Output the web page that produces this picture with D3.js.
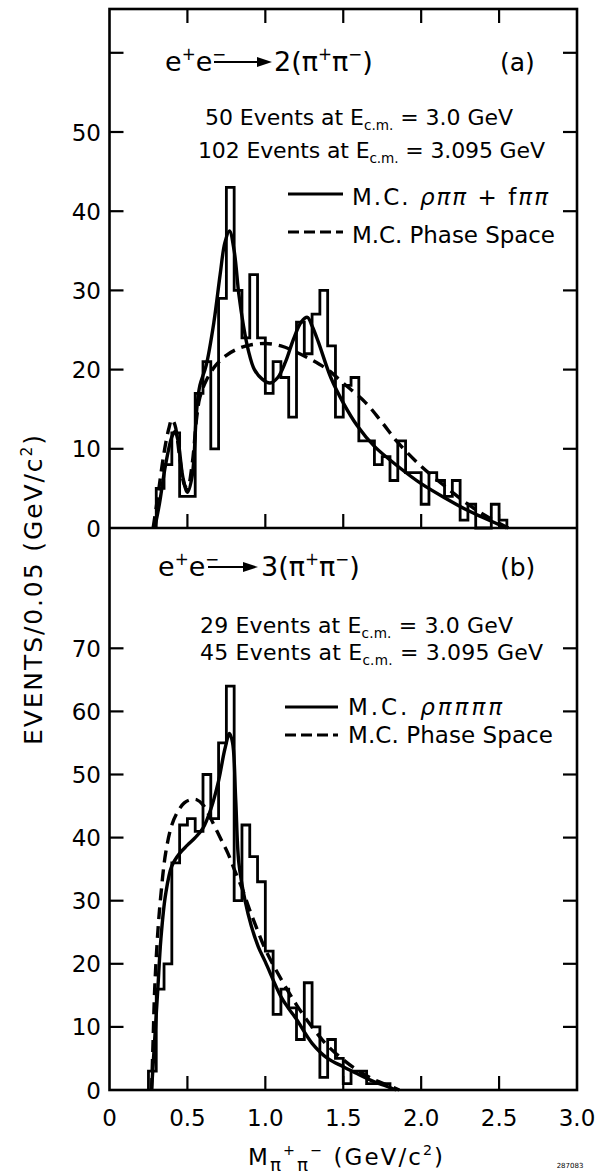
<!DOCTYPE html>
<html><head><meta charset="utf-8">
<script src="https://cdn.jsdelivr.net/npm/d3@7"></script>
<style>
body{margin:0;background:#fff}
svg{display:block}
text{font-family:"DejaVu Sans",sans-serif;fill:#000}
</style>
</head><body>
<svg id="c" width="603" height="1176"></svg>
<script>
// ---------- data ----------
const xTicks = [0.5, 1.0, 1.5, 2.0, 2.5];
const xTickLabels = ["0", "0.5", "1.0", "1.5", "2.0", "2.5", "3.0"];
const xTickLabelValues = [0, 0.5, 1.0, 1.5, 2.0, 2.5, 3.0];
const yTicksA = [10, 20, 30, 40, 50, 60];
const yLabelsA = [0, 10, 20, 30, 40, 50];
const yTicksB = [10, 20, 30, 40, 50, 60, 70];
const yLabelsB = [0, 10, 20, 30, 40, 50, 60, 70];
const binWidth = 0.05;

// panel (a) histogram, bins of 0.05 GeV starting at 0.30
const histAStart = 0.30;
const histA = [5, 8, 12, 4, 4, 17, 21, 10, 29, 43, 30, 24, 32, 24, 17, 21, 19, 14, 26, 22,
               27, 30, 23, 14, 18, 19, 11, 11, 8, 9, 6, 11, 7, 7, 3, 7, 6, 4, 6, 1,
               3, 0, 0, 3, 1];
// panel (b) histogram, bins of 0.05 GeV starting at 0.25
const histBStart = 0.25;
const histB = [3, 16, 20, 36, 42, 43, 41, 50, 43, 55, 64, 30, 42, 37, 33, 22, 12, 16, 13, 8,
               17, 10, 2, 8, 5, 1, 3, 3, 1, 1, 1];

// Monte Carlo curves  [mass, events]
const curveASolid = [[0.29,0],[0.32,3],[0.36,8],[0.40,11.5],[0.42,12.2],[0.44,11],[0.47,6.5],[0.50,4.5],
  [0.53,6.5],[0.56,15],[0.58,18],[0.62,20.5],[0.67,26],[0.71,32],[0.74,36],[0.77,37.5],[0.80,35],
  [0.83,29.5],[0.86,25.5],[0.89,22.5],[0.93,20],[0.98,18.8],[1.03,18.3],[1.08,19],[1.13,21],[1.18,23.8],
  [1.23,26],[1.27,26.6],[1.30,25.5],[1.34,23.5],[1.42,19],[1.50,15.8],[1.59,12.9],[1.70,10.3],[1.85,7.8],
  [2.00,5.6],[2.17,3.6],[2.30,2.2],[2.40,1.3],[2.48,0.6],[2.55,0]];
const curveADashed = [[0.28,0],[0.31,4],[0.35,9.5],[0.38,12.5],[0.40,13.7],[0.42,13],[0.45,9],[0.48,5.5],
  [0.50,5],[0.53,8],[0.56,14],[0.58,16.5],[0.62,18.6],[0.68,20.5],[0.75,21.8],[0.82,22.6],[0.90,23.1],
  [1.00,23.3],[1.10,23],[1.20,22.2],[1.30,21.2],[1.40,20],[1.50,18.3],[1.64,15.9],[1.75,13.3],[1.85,10.8],
  [2.00,7.8],[2.17,5],[2.30,3],[2.40,1.7],[2.50,0.6],[2.56,0]];
const curveBSolid = [[0.27,0],[0.29,8],[0.31,16],[0.33,24],[0.36,31],[0.40,35.5],[0.45,37.5],[0.50,38.8],
  [0.55,40],[0.60,41.5],[0.65,44.5],[0.70,49],[0.74,54],[0.77,56.5],[0.79,55],[0.81,46],[0.83,36],
  [0.87,30],[0.91,26],[0.955,22.7],[1.00,20.3],[1.10,14.8],[1.15,12.9],[1.20,11.2],[1.30,7.4],[1.40,5.0],
  [1.50,3.7],[1.58,2.7],[1.70,1.3],[1.80,0.4],[1.84,0]];
const curveBDashed = [[0.27,0],[0.28,8],[0.29,16],[0.31,25],[0.33,31],[0.36,37.5],[0.40,42],[0.44,44.2],
  [0.48,45.5],[0.52,46],[0.56,46],[0.60,45.2],[0.64,43.5],[0.68,41.5],[0.72,39.5],[0.76,37.5],[0.80,35],
  [0.85,32],[0.90,28.5],[0.95,25.3],[1.00,22.3],[1.08,18.5],[1.20,13.5],[1.30,10],[1.40,7],[1.50,4.8],
  [1.60,3],[1.70,1.6],[1.80,0.6],[1.86,0]];

// ---------- layout ----------
const svg = d3.select("#c");
svg.append("rect").attr("width",603).attr("height",1176).attr("fill","#fff");
const X0 = 109.5, X1 = 577, YTOP = 9, YMID = 528, YBOT = 1090;
const x = d3.scaleLinear().domain([0, 3]).range([X0, X1]);
const yA = d3.scaleLinear().domain([0, (YMID - YTOP) / 7.92]).range([YMID, YTOP]);
const yB = d3.scaleLinear().domain([0, (YBOT - YMID) / 6.31]).range([YBOT, YMID]);
const TL = 14;

// frame
const g = svg.append("g").attr("stroke","#000").attr("fill","none");
g.append("rect").attr("x",X0).attr("y",YTOP).attr("width",X1-X0).attr("height",YBOT-YTOP).attr("stroke-width",2.6);
g.append("line").attr("x1",X0).attr("x2",X1).attr("y1",YMID).attr("y2",YMID).attr("stroke-width",2.6);

// ticks
function yTicks(scale, ticks){
  ticks.forEach(t=>{
    const yy = scale(t);
    g.append("line").attr("x1",X0).attr("x2",X0+TL).attr("y1",yy).attr("y2",yy).attr("stroke-width",2.2);
    g.append("line").attr("x1",X1-TL).attr("x2",X1).attr("y1",yy).attr("y2",yy).attr("stroke-width",2.2);
  });
}
yTicks(yA, yTicksA);
yTicks(yB, yTicksB);
xTicks.forEach(t=>{
  const xx = x(t);
  g.append("line").attr("x1",xx).attr("x2",xx).attr("y1",YTOP).attr("y2",YTOP+TL).attr("stroke-width",2.2);
  g.append("line").attr("x1",xx).attr("x2",xx).attr("y1",YMID).attr("y2",YMID-TL).attr("stroke-width",2.2);
  g.append("line").attr("x1",xx).attr("x2",xx).attr("y1",YBOT).attr("y2",YBOT-TL).attr("stroke-width",2.2);
});

// tick labels
const lab = svg.append("g").attr("font-size",23);
yLabelsA.forEach(t=>lab.append("text").attr("x",101).attr("y",yA(t)+8.5).attr("text-anchor","end").text(t));
yLabelsB.forEach(t=>lab.append("text").attr("x",101).attr("y",yB(t)+8.5).attr("text-anchor","end").text(t));
xTickLabelValues.forEach((t,i)=>lab.append("text").attr("x",x(t)).attr("y",YBOT+36).attr("text-anchor","middle").text(xTickLabels[i]));

// histograms
function hist(start, vals, yS){
  const pts = [[start,0]];
  vals.forEach((v,i)=>pts.push([start+i*binWidth, v]));
  pts.push([start+vals.length*binWidth, 0]);
  const line = d3.line().x(d=>x(d[0])).y(d=>yS(d[1])).curve(d3.curveStepAfter);
  svg.append("path").attr("d", line(pts)).attr("fill","none").attr("stroke","#000")
     .attr("stroke-width",2.8).attr("stroke-linejoin","miter");
}
hist(histAStart, histA, yA);
hist(histBStart, histB, yB);

// curves
function curve(data, yS, dashed){
  const line = d3.line().x(d=>x(d[0])).y(d=>yS(d[1])).curve(d3.curveCatmullRom.alpha(0.5));
  const p = svg.append("path").attr("d", line(data)).attr("fill","none").attr("stroke","#000")
     .attr("stroke-width",3.4).attr("stroke-linecap","butt");
  if (dashed) p.attr("stroke-dasharray","12,7");
}
curve(curveASolid, yA, false);
curve(curveADashed, yA, true);
curve(curveBSolid, yB, false);
curve(curveBDashed, yB, true);

// rich text helper
function rich(xp, yp, size, parts, opts){
  opts = opts || {};
  const t = svg.append("text").attr("x",xp).attr("y",yp).attr("font-size",size);
  if (opts.anchor) t.attr("text-anchor",opts.anchor);
  if (opts.len) t.attr("textLength",opts.len).attr("lengthAdjust","spacing");
  let shift = 0;
  parts.forEach(p=>{
    const s = t.append("tspan").text(p.t);
    let target = 0;
    const r = p.r || 0.62;
    if (p.sup) { s.attr("font-size", size*r); target = -size*0.42; }
    if (p.sub) { s.attr("font-size", size*r); target = size*(p.down||0.22); }
    if (p.it) s.attr("font-style","italic");
    s.attr("dy", target - shift);
    shift = target;
  });
  return t;
}
function arrow(xa, xb, yy){
  svg.append("line").attr("x1",xa).attr("x2",xb-8).attr("y1",yy).attr("y2",yy).attr("stroke","#000").attr("stroke-width",2.2);
  svg.append("path").attr("d",`M${xb},${yy} L${xb-15},${yy-5} L${xb-15},${yy+5} Z`).attr("fill","#000");
}

// panel (a) annotations
rich(165, 71, 27, [{t:"e"},{t:"+",sup:1},{t:"e"},{t:"−",sup:1}]);
arrow(214, 272, 62);
rich(274, 71, 27, [{t:"2(π"},{t:"+",sup:1},{t:"π"},{t:"−",sup:1},{t:")"}]);
rich(500, 71, 25, [{t:"(a)"}]);
rich(205, 125, 22, [{t:"50 Events at E"},{t:"c.m.",sub:1},{t:" = 3.0 GeV"}], {len:308});
rich(198, 158, 22, [{t:"102 Events at E"},{t:"c.m.",sub:1},{t:" = 3.095 GeV"}], {len:347});
svg.append("line").attr("x1",288).attr("x2",343).attr("y1",194).attr("y2",194).attr("stroke","#000").attr("stroke-width",3);
rich(352, 205, 23, [{t:"M.C. "},{t:"ρππ",it:1},{t:" + f"},{t:"ππ",it:1}], {len:196});
svg.append("line").attr("x1",288).attr("x2",343).attr("y1",232).attr("y2",232).attr("stroke","#000").attr("stroke-width",3).attr("stroke-dasharray","11,5");
rich(352, 243, 23, [{t:"M.C. Phase Space"}], {len:203});

// panel (b) annotations
rich(158, 576, 27, [{t:"e"},{t:"+",sup:1},{t:"e"},{t:"−",sup:1}]);
arrow(208, 258, 567);
rich(261, 576, 27, [{t:"3(π"},{t:"+",sup:1},{t:"π"},{t:"−",sup:1},{t:")"}]);
rich(500, 576, 25, [{t:"(b)"}]);
rich(200, 633, 22, [{t:"29 Events at E"},{t:"c.m.",sub:1},{t:" = 3.0 GeV"}], {len:313});
rich(200, 660, 22, [{t:"45 Events at E"},{t:"c.m.",sub:1},{t:" = 3.095 GeV"}], {len:343});
svg.append("line").attr("x1",285).attr("x2",338).attr("y1",707).attr("y2",707).attr("stroke","#000").attr("stroke-width",3);
rich(348, 715, 23, [{t:"M.C. "},{t:"ρππππ",it:1}], {len:154});
svg.append("line").attr("x1",285).attr("x2",338).attr("y1",735).attr("y2",735).attr("stroke","#000").attr("stroke-width",3).attr("stroke-dasharray","11,5");
rich(348, 743, 23, [{t:"M.C. Phase Space"}], {len:205});

// axis titles
rich(248, 1165, 23, [{t:"M"},{t:"π",sub:1,r:0.8,down:0.25},{t:"+",sup:1},{t:"π",sub:1,r:0.8,down:0.25},{t:"−",sup:1},{t:"  (GeV/c"},{t:"2",sup:1},{t:")"}], {len:195});
const yt = rich(0, 0, 25, [{t:"EVENTS/0.05 (GeV/c"},{t:"2",sup:1},{t:")"}], {anchor:"middle", len:310});
yt.attr("transform","translate(42,590) rotate(-90)");
svg.append("text").attr("x",570).attr("y",1168).attr("font-size",7).attr("text-anchor","middle").text("287083");
</script>
</body></html>
